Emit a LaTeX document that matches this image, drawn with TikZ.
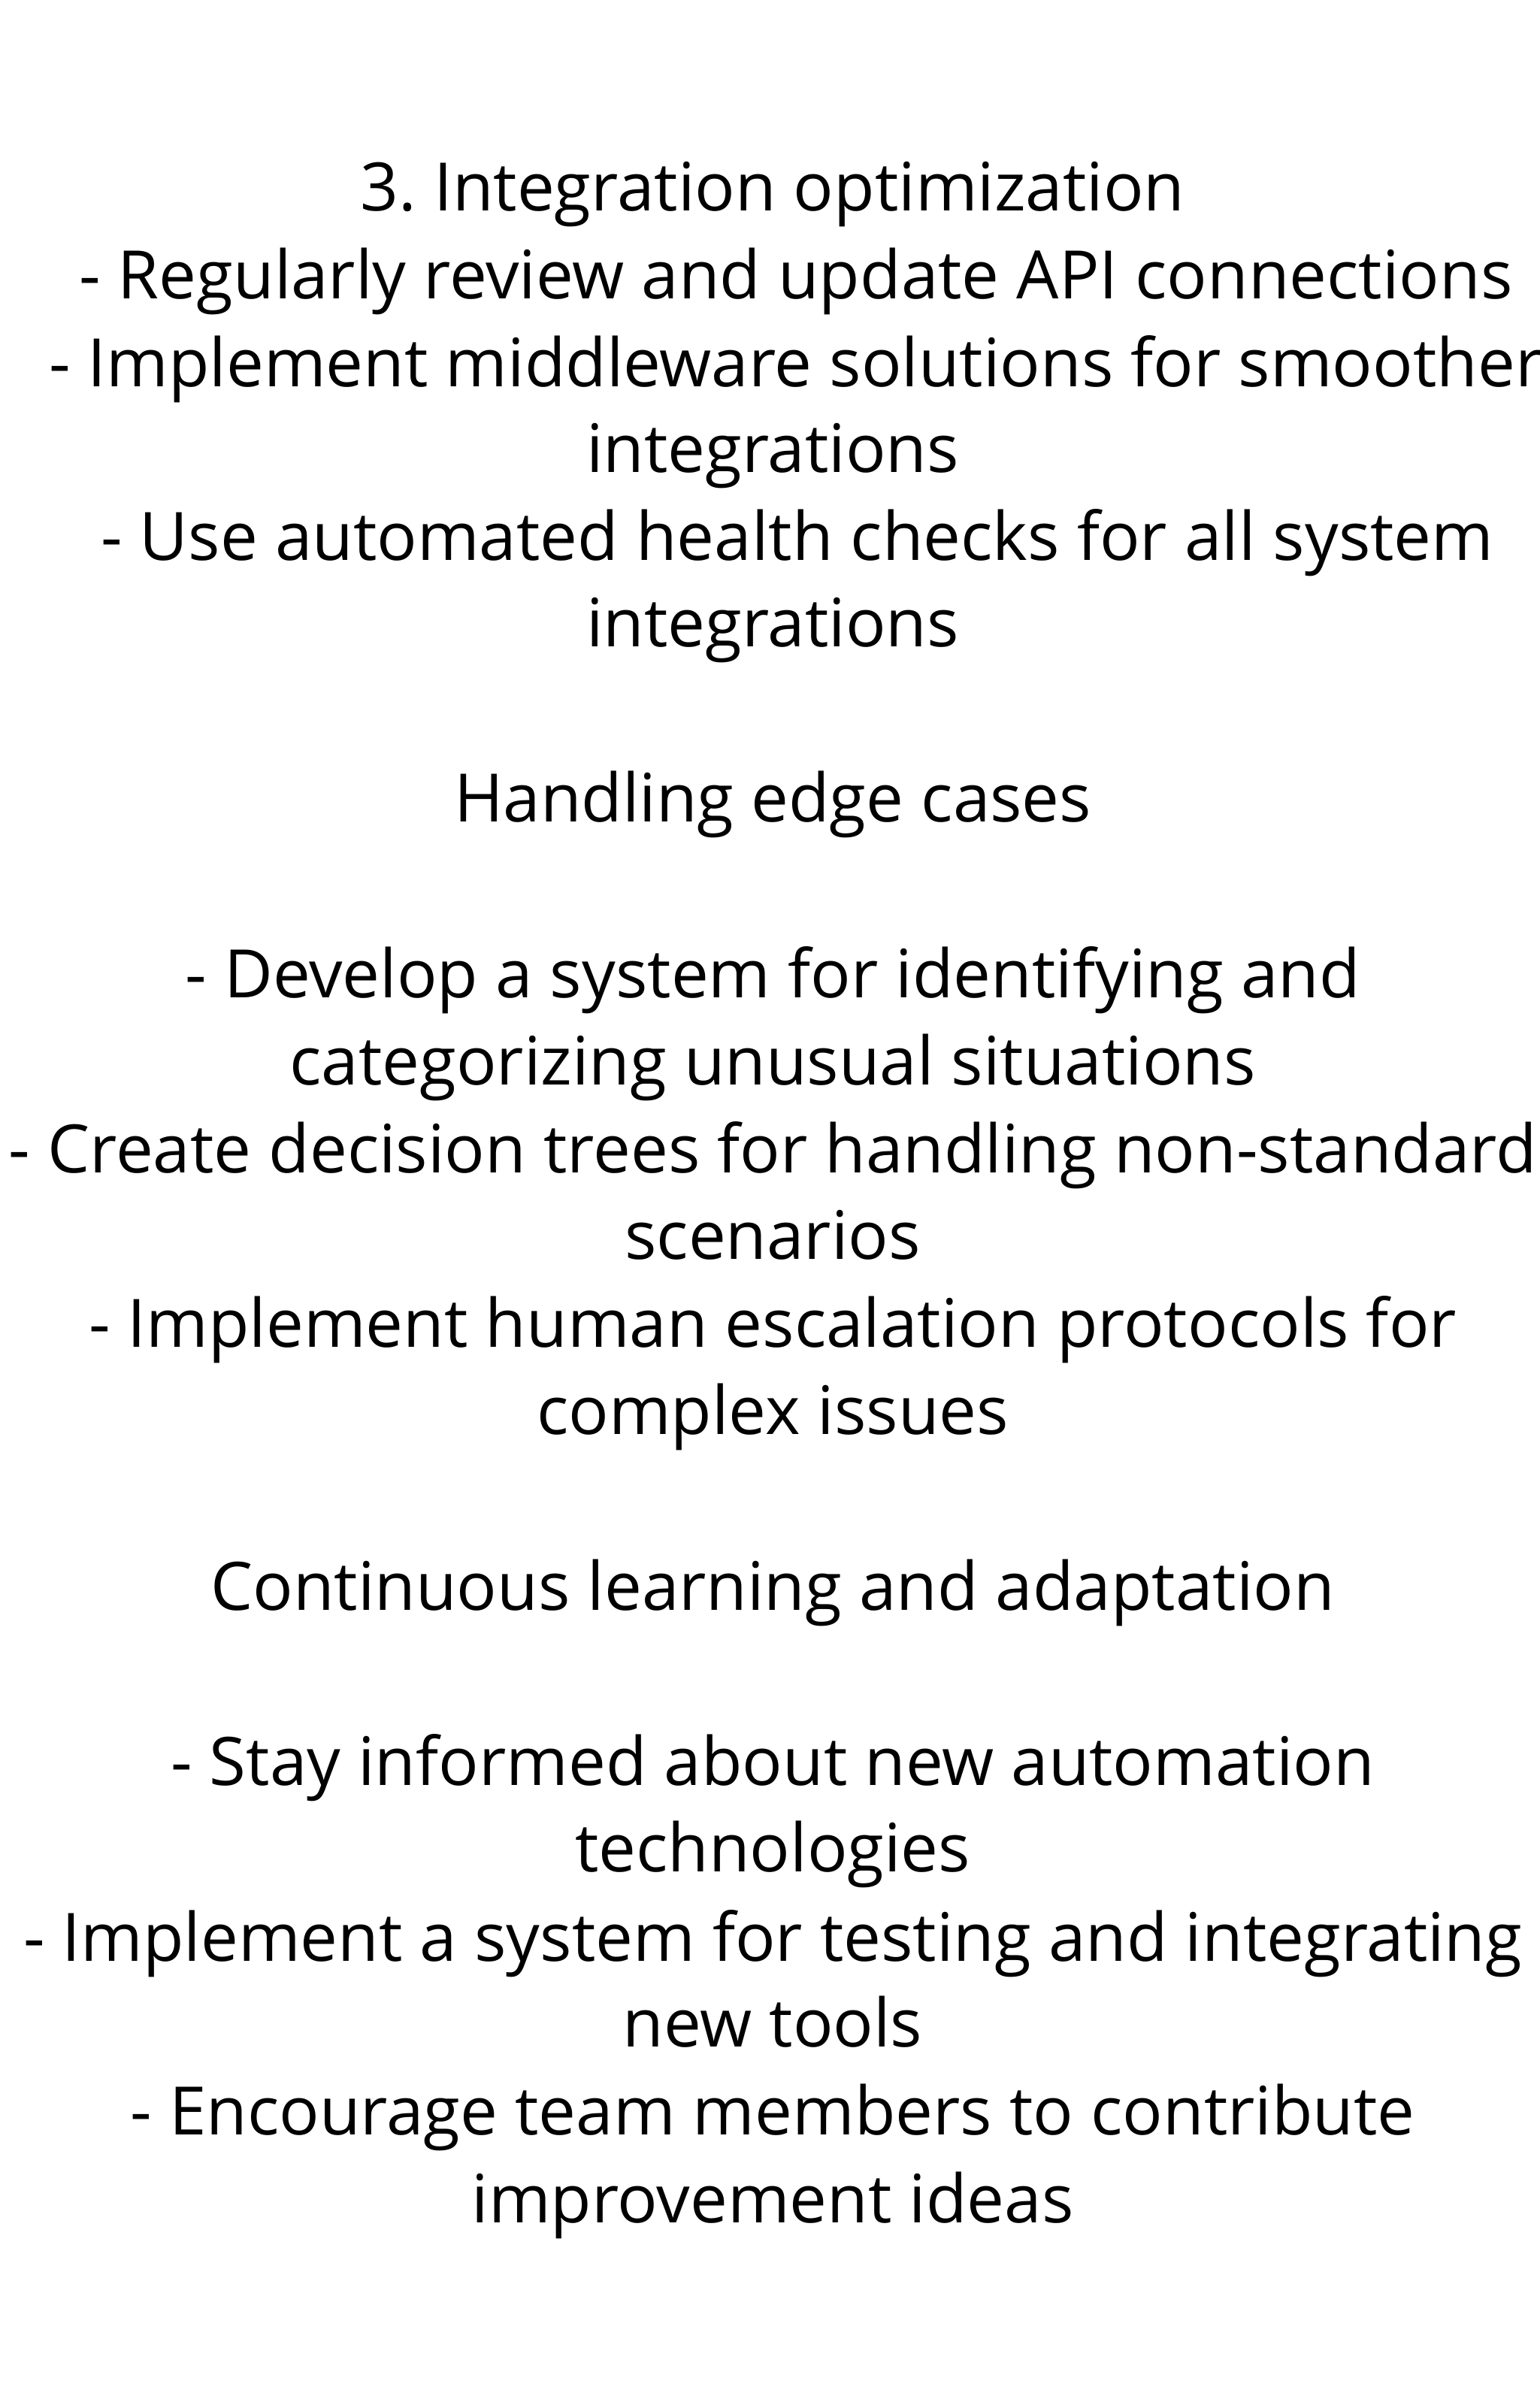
\documentclass[tikz,border=0pt]{standalone}
\usepackage{fontspec}
\setmainfont{Open Sans}
\begin{document}
\frenchspacing
\begin{tikzpicture}[x=0.737pt,y=-0.737pt,
  ln/.style={anchor=base,inner sep=0pt,font=\fontsize{32}{38}\selectfont}]
\useasboundingbox[fill=white] (0,0) rectangle (1000,1562.5);
\foreach \t/\x/\y [count=\i] in {
 {3. Integration optimization}/502/137,
 {- Regularly review and update API connections}/517/194,
 {- Implement middleware solutions for smoother}/517/251,
 {integrations}/502/307,
 {- Use automated health checks for all system}/518/364,
 {integrations}/502/420,
 {Handling edge cases}/502/534,
 {- Develop a system for identifying and}/502/648,
 {categorizing unusual situations}/502/705,
 {- Create decision trees for handling non-standard}/502/762,
 {scenarios}/502/818,
 {- Implement human escalation protocols for}/502/875,
 {complex issues}/502/932,
 {Continuous learning and adaptation}/502/1046,
 {- Stay informed about new automation}/502/1160,
 {technologies}/502/1216,
 {- Implement a system for testing and integrating}/502/1274,
 {new tools}/502/1330,
 {- Encourage team members to contribute}/502/1387,
 {improvement ideas}/502/1444}
 \node[ln] (l\i) at (\x,\y) {\t};
\end{tikzpicture}
\end{document}
